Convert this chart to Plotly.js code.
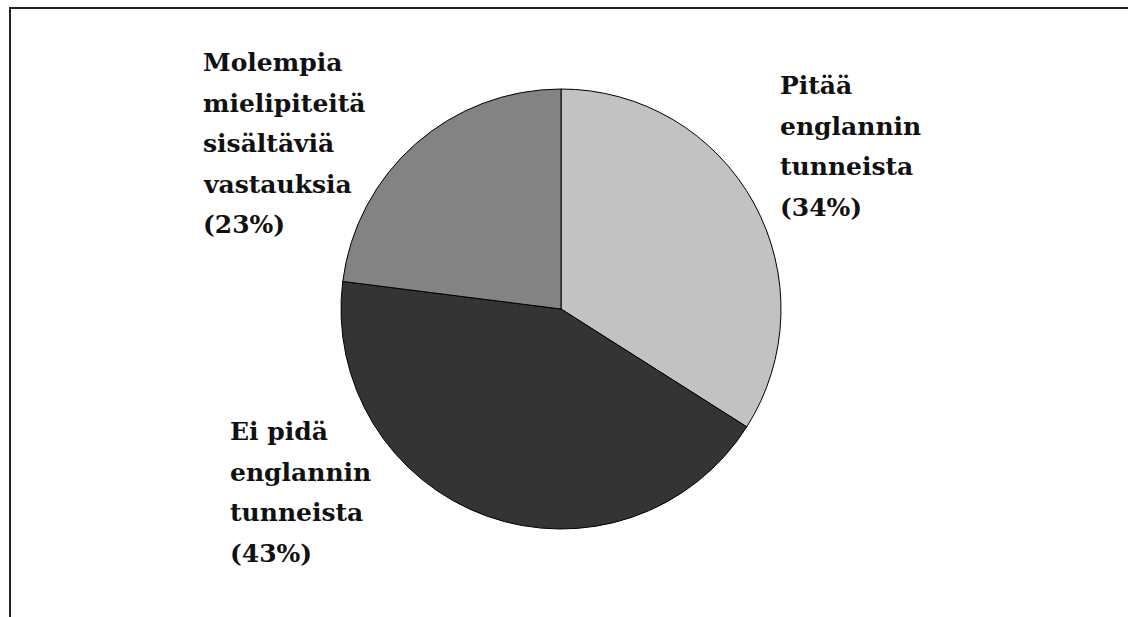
<!DOCTYPE html>
<html>
<head>
<meta charset="utf-8">
<script src="https://cdn.plot.ly/plotly-3.0.1.min.js"></script>
<style>html,body{margin:0;padding:0;background:#fff;}#chart{width:1128px;height:617px;}</style>
</head>
<body>
<div id="chart"></div>
<script>
// Data
var categories = ["Pitää englannin tunneista", "Ei pidä englannin tunneista", "Molempia mielipiteitä sisältäviä vastauksia"];
var values = [34, 43, 23];
var labelLines = [
  ["Pitää", "englannin", "tunneista", "(34%)"],
  ["Ei pidä", "englannin", "tunneista", "(43%)"],
  ["Molempia", "mielipiteitä", "sisältäviä", "vastauksia", "(23%)"]
];
var colors = ["#c2c2c2", "#343434", "#838383"];

var W = 1128, H = 617;
function px(x){ return x / W; }
function py(y){ return 1 - y / H; }

// Label anchor positions (left, top) in pixels, and line step
var labelPos = [[778, 69], [228, 415], [201, 46]];
var lineStep = 40.5;

var annotations = [];
categories.forEach(function(c, i){
  labelLines[i].forEach(function(line, k){
    annotations.push({
      xref: "paper", yref: "paper",
      x: px(labelPos[i][0]), y: py(labelPos[i][1] + k * lineStep),
      xanchor: "left", yanchor: "top", align: "left",
      showarrow: false,
      text: line,
      font: {family: "DejaVu Serif", size: 25, color: "#111", weight: "bold"}
    });
  });
});

var cx = 561, cy = 309, r = 220;
var data = [{
  type: "pie",
  labels: categories,
  values: values,
  sort: false,
  direction: "clockwise",
  rotation: 0,
  textinfo: "none",
  hoverinfo: "label+percent",
  marker: {colors: colors, line: {color: "#000", width: 1}},
  domain: {x: [px(cx - r), px(cx + r)], y: [py(cy + r), py(cy - r)]}
}];

var layout = {
  width: W, height: H,
  margin: {l: 0, r: 0, t: 0, b: 0},
  paper_bgcolor: "#fff",
  showlegend: false,
  annotations: annotations,
  shapes: [
    {type: "line", xref: "paper", yref: "paper", x0: px(9), x1: 1, y0: py(8), y1: py(8), line: {color: "#222", width: 2}},
    {type: "line", xref: "paper", yref: "paper", x0: px(10), x1: px(10), y0: py(8), y1: 0, line: {color: "#222", width: 2}}
  ]
};

Plotly.newPlot("chart", data, layout, {staticPlot: true});
</script>
</body>
</html>
